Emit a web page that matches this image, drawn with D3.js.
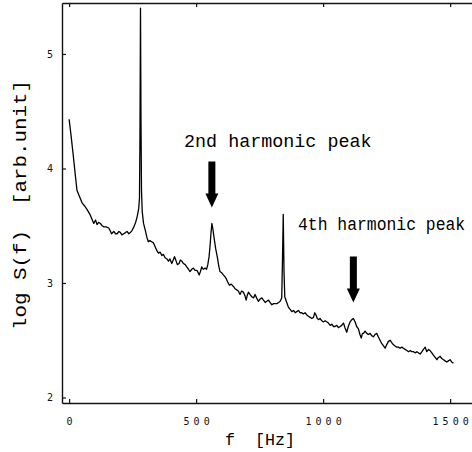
<!DOCTYPE html>
<html>
<head>
<meta charset="utf-8">
<script src="https://cdn.jsdelivr.net/npm/d3@7"></script>
<style>
  body { margin: 0; background: #fff; }
  svg { display: block; }
</style>
</head>
<body>
<svg></svg>
<script>
// spectrum
const freqHz = [
  0, 8, 17, 24, 31, 40, 51, 62, 71, 84, 97, 104, 110, 116, 123, 130, 137, 146, 156, 161,
  167, 176, 183, 189, 196, 202, 208, 215, 222, 228, 235, 241, 248, 255, 262, 268, 274, 277, 279, 281,
  283, 285, 288, 293, 300, 306, 312, 318, 325, 332, 340, 346, 352, 358, 365, 371, 378, 385, 391, 397,
  404, 410, 415, 420, 426, 433, 438, 444, 450, 457, 463, 470, 476, 483, 489, 496, 503, 508, 512, 517,
  522, 528, 535, 541, 546, 551, 555, 559, 562, 566, 571, 577, 584, 589, 594, 600, 607, 612, 618, 624,
  631, 638, 647, 653, 660, 666, 673, 679, 686, 692, 697, 701, 706, 712, 719, 726, 732, 738, 745, 752,
  759, 765, 772, 778, 785, 791, 798, 805, 812, 818, 825, 831, 837, 840, 843, 846, 849, 855, 863, 870,
  877, 884, 890, 896, 903, 909, 916, 922, 929, 936, 942, 949, 956, 962, 967, 972, 977, 982, 988, 995,
  1001, 1008, 1015, 1021, 1028, 1034, 1041, 1047, 1054, 1060, 1067, 1073, 1080, 1086, 1093, 1099, 1106, 1113, 1119, 1126,
  1132, 1139, 1145, 1150, 1155, 1159, 1165, 1172, 1178, 1185, 1191, 1198, 1204, 1211, 1217, 1224, 1231, 1238, 1244, 1250,
  1257, 1264, 1270, 1277, 1283, 1290, 1296, 1303, 1310, 1316, 1323, 1330, 1336, 1343, 1349, 1356, 1362, 1369, 1375, 1382,
  1389, 1395, 1402, 1408, 1415, 1421, 1428, 1434, 1441, 1448, 1454, 1461, 1467, 1474, 1480, 1487, 1493, 1500, 1506, 1513
];
const logS = [
  4.43, 4.28, 4.10, 3.95, 3.81, 3.76, 3.70, 3.67, 3.64, 3.59, 3.52, 3.55, 3.51, 3.53, 3.52, 3.50, 3.49, 3.49, 3.48, 3.46,
  3.43, 3.45, 3.43, 3.43, 3.45, 3.44, 3.42, 3.43, 3.44, 3.45, 3.43, 3.44, 3.46, 3.49, 3.53, 3.58, 3.65, 3.74, 4.30, 5.40,
  4.40, 3.80, 3.62, 3.52, 3.46, 3.40, 3.36, 3.37, 3.36, 3.35, 3.31, 3.28, 3.26, 3.27, 3.24, 3.25, 3.22, 3.21, 3.19, 3.21,
  3.17, 3.20, 3.23, 3.20, 3.16, 3.17, 3.20, 3.19, 3.17, 3.16, 3.14, 3.12, 3.10, 3.12, 3.13, 3.11, 3.11, 3.09, 3.07, 3.10,
  3.14, 3.12, 3.13, 3.12, 3.16, 3.23, 3.33, 3.45, 3.52, 3.47, 3.39, 3.30, 3.22, 3.15, 3.10, 3.09, 3.07, 3.06, 3.04, 3.01,
  2.98, 2.99, 2.97, 2.95, 2.94, 2.93, 2.90, 2.93, 2.92, 2.89, 2.85, 2.89, 2.92, 2.90, 2.88, 2.87, 2.90, 2.87, 2.84, 2.86,
  2.87, 2.85, 2.83, 2.84, 2.85, 2.83, 2.81, 2.82, 2.82, 2.82, 2.83, 2.84, 2.87, 3.20, 3.60, 3.10, 2.88, 2.84, 2.79, 2.77,
  2.75, 2.76, 2.74, 2.75, 2.76, 2.74, 2.74, 2.73, 2.74, 2.72, 2.71, 2.70, 2.69, 2.70, 2.74, 2.72, 2.69, 2.68, 2.69, 2.67,
  2.66, 2.67, 2.66, 2.65, 2.63, 2.64, 2.62, 2.62, 2.63, 2.61, 2.62, 2.63, 2.65, 2.61, 2.57, 2.62, 2.66, 2.68, 2.69, 2.66,
  2.62, 2.60, 2.55, 2.52, 2.56, 2.56, 2.58, 2.56, 2.55, 2.56, 2.54, 2.53, 2.55, 2.56, 2.53, 2.50, 2.47, 2.45, 2.43, 2.46,
  2.49, 2.50, 2.48, 2.46, 2.45, 2.44, 2.44, 2.43, 2.44, 2.43, 2.42, 2.41, 2.40, 2.41, 2.40, 2.40, 2.39, 2.40, 2.39, 2.38,
  2.40, 2.42, 2.44, 2.40, 2.42, 2.41, 2.39, 2.37, 2.35, 2.33, 2.35, 2.36, 2.34, 2.33, 2.32, 2.31, 2.32, 2.33, 2.31, 2.30
];

const xTickValues = [0, 500, 1000, 1500];
const yTickValues = [2, 3, 4, 5];
const noteLabels = ['2nd harmonic peak', '4th harmonic peak'];
const noteFreqs = [562, 1119];
const notePeaks = [3.52, 2.69];

const WIDTH = 472, HEIGHT = 452;
const PLOT = { left: 62, right: 473, top: 3, bottom: 403 };
const MONO = '"Liberation Mono", "Courier New", monospace';
const TICK_FONT = '"DejaVu Sans Mono", monospace';

const x = d3.scaleLinear().domain([-28, 1590]).range([PLOT.left, PLOT.right]);
const y = d3.scaleLinear().domain([1.952, 5.445]).range([PLOT.bottom, PLOT.top]);

const svg = d3.select('svg').attr('width', WIDTH).attr('height', HEIGHT);

// bottom axis, ticks pointing inward
const xAxis = svg.append('g')
  .attr('transform', `translate(0,${PLOT.bottom})`)
  .call(d3.axisBottom(x).tickValues(xTickValues).tickFormat(d3.format('d'))
    .tickSize(-4).tickSizeOuter(0).tickPadding(15));
xAxis.selectAll('text')
  .attr('font-family', TICK_FONT).attr('font-size', 10)
  .attr('letter-spacing', '4px').attr('dx', '2px');

// top frame line
svg.append('g')
  .attr('transform', `translate(0,${PLOT.top})`)
  .call(d3.axisTop(x).tickValues(xTickValues).tickSize(-4).tickSizeOuter(0).tickFormat(''));

// left axis
const yAxis = svg.append('g')
  .attr('transform', `translate(${PLOT.left},0)`)
  .call(d3.axisLeft(y).tickValues(yTickValues).tickFormat(d3.format('d'))
    .tickSize(-4).tickSizeOuter(0).tickPadding(9));
yAxis.selectAll('text')
  .attr('font-family', TICK_FONT).attr('font-size', 10);

svg.selectAll('.domain').attr('stroke', '#111').attr('stroke-width', 1.4);
svg.selectAll('.tick line').attr('stroke', '#111').attr('stroke-width', 1.2);
svg.selectAll('.tick text').attr('fill', '#111');

// spectrum line
const line = d3.line().x(i => x(freqHz[i])).y(i => y(logS[i]));
svg.append('path')
  .attr('d', line(d3.range(freqHz.length)))
  .attr('fill', 'none')
  .attr('stroke', '#000')
  .attr('stroke-width', 1.3)
  .attr('stroke-linejoin', 'round');

// axis titles
svg.append('text')
  .attr('transform', 'translate(26,205) rotate(-90)')
  .attr('text-anchor', 'middle')
  .attr('font-family', MONO).attr('font-size', 19)
  .attr('textLength', 250).attr('lengthAdjust', 'spacingAndGlyphs')
  .style('white-space', 'pre')
  .text('log S(f)  [arb.unit]');

svg.append('text')
  .attr('x', 260).attr('y', 445)
  .attr('text-anchor', 'middle')
  .attr('font-family', MONO).attr('font-size', 17)
  .attr('textLength', 70).attr('lengthAdjust', 'spacingAndGlyphs')
  .style('white-space', 'pre')
  .text('f  [Hz]');

// annotations (narrow, tall lettering like the original)
const notePos = [{ x: 184, y: 147, size: 18.4 }, { x: 298, y: 230, size: 16.4 }];
noteLabels.forEach((label, i) => {
  svg.append('text')
    .attr('transform', `translate(${notePos[i].x},${notePos[i].y}) scale(1,${19 / notePos[i].size})`)
    .attr('font-family', MONO).attr('font-size', notePos[i].size)
    .text(label);

  const ax = x(noteFreqs[i]);
  const tip = y(notePeaks[i]) - 16;
  const top = tip - 46;
  const neck = tip - 14;
  svg.append('path')
    .attr('d', `M${ax - 3.5},${top} L${ax + 3.5},${top} L${ax + 3.5},${neck} L${ax + 6.5},${neck}
                L${ax},${tip} L${ax - 6.5},${neck} L${ax - 3.5},${neck} Z`)
    .attr('fill', '#000');
});
</script>
</body>
</html>
